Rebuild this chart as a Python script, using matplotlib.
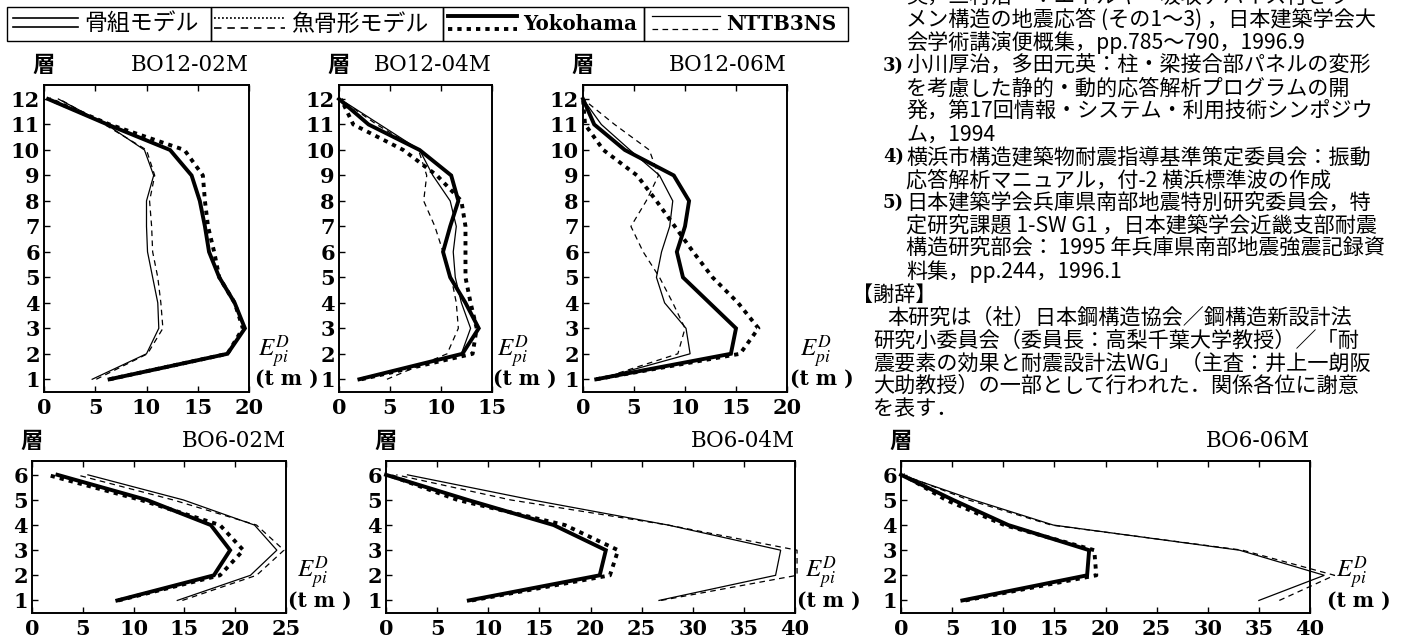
import matplotlib
matplotlib.use("Agg")
import matplotlib.pyplot as plt
from matplotlib.patches import Rectangle

plt.rcParams.update(
    {
        "font.family": ["DejaVu Serif"],
        "mathtext.fontset": "stix",
        "axes.linewidth": 1.4,
        "xtick.direction": "in",
        "ytick.direction": "in",
        "xtick.major.size": 4,
        "ytick.major.size": 4,
        "xtick.major.width": 1.0,
        "ytick.major.width": 1.0,
        "xtick.major.pad": 4,
        "ytick.major.pad": 3,
    }
)
W, H = 1401, 641
JP = ["Noto Sans CJK JP", "DejaVu Sans"]
SERIF = "DejaVu Serif"

floors12 = list(range(1, 13))
floors6 = list(range(1, 7))

# plastic energy per storey, floor 1 upwards
# key: (model, ground motion) -> frame = 骨組, fish = 魚骨形
bo12_02m = {
    ("fish", "NTTB3NS"): [5.1, 10.1, 11.6, 11.4, 11.1, 10.6, 10.5, 10.3, 10.8, 10.0, 5.9, 1.5],
    ("frame", "NTTB3NS"): [4.7, 10.0, 11.2, 11.1, 10.6, 10.1, 10.0, 10.0, 10.7, 9.8, 6.1, 1.4],
    ("fish", "Yokohama"): [6.4, 17.9, 19.4, 18.6, 17.1, 16.6, 16.0, 15.7, 15.5, 13.7, 6.4, 0.5],
    ("frame", "Yokohama"): [6.4, 17.9, 19.6, 18.6, 17.1, 16.1, 15.7, 15.2, 14.4, 12.3, 6.2, 0.4],
}
bo12_04m = {
    ("fish", "NTTB3NS"): [4.7, 10.6, 11.7, 11.5, 11.0, 10.2, 9.4, 8.3, 8.6, 7.8, 3.7, 0.1],
    ("frame", "NTTB3NS"): [2.0, 12.0, 12.9, 12.0, 11.4, 11.2, 11.5, 10.9, 9.2, 7.9, 4.0, 0.1],
    ("fish", "Yokohama"): [2.2, 13.1, 13.5, 12.9, 12.4, 12.4, 12.4, 12.0, 9.6, 6.3, 1.4, 0.2],
    ("frame", "Yokohama"): [2.0, 12.1, 13.7, 12.4, 10.9, 10.2, 10.9, 11.7, 11.0, 7.9, 2.9, 0.0],
}
bo12_06m = {
    ("fish", "NTTB3NS"): [1.6, 9.3, 10.0, 8.8, 7.5, 5.9, 4.7, 6.2, 7.4, 6.5, 3.1, 0.0],
    ("frame", "NTTB3NS"): [1.5, 10.5, 10.1, 8.0, 7.2, 7.7, 8.5, 8.8, 7.5, 4.6, 1.8, 0.0],
    ("fish", "Yokohama"): [1.3, 15.4, 17.2, 15.2, 12.7, 10.8, 9.0, 7.2, 5.3, 2.0, 0.2, 0.0],
    ("frame", "Yokohama"): [1.3, 14.5, 15.0, 12.4, 9.8, 9.2, 10.0, 10.4, 8.9, 4.1, 1.1, 0.0],
}
bo6_02m = {
    ("fish", "NTTB3NS"): [14.8, 22.1, 24.8, 22.1, 13.9, 4.4],
    ("frame", "NTTB3NS"): [14.3, 21.5, 24.1, 21.9, 14.9, 5.5],
    ("fish", "Yokohama"): [8.5, 18.5, 20.8, 18.5, 10.7, 1.5],
    ("frame", "Yokohama"): [8.4, 17.9, 19.5, 17.6, 11.3, 2.5],
}
bo6_04m = {
    ("fish", "NTTB3NS"): [26.9, 40.2, 40.2, 27.6, 12.2, 1.0],
    ("frame", "NTTB3NS"): [26.7, 38.1, 38.6, 27.6, 14.3, 2.1],
    ("fish", "Yokohama"): [8.4, 21.9, 22.7, 17.5, 7.0, 0.2],
    ("frame", "Yokohama"): [8.1, 20.9, 21.5, 16.4, 8.0, 0.0],
}
bo6_06m = {
    ("fish", "NTTB3NS"): [37.0, 42.4, 33.4, 14.7, 6.6, 0.2],
    ("frame", "NTTB3NS"): [35.0, 41.4, 33.1, 14.9, 7.1, 0.0],
    ("fish", "Yokohama"): [6.3, 19.1, 18.9, 10.1, 4.4, 0.2],
    ("frame", "Yokohama"): [6.0, 18.2, 18.4, 10.5, 5.1, 0.0],
}

styles = {
    ("fish", "NTTB3NS"): dict(lw=0.9, dashes=(4.5, 3.5)),
    ("frame", "NTTB3NS"): dict(lw=0.9, ls="-"),
    ("fish", "Yokohama"): dict(lw=2.8, dashes=(1.1, 1.3)),
    ("frame", "Yokohama"): dict(lw=2.8, ls="-"),
}

# name, data, floors, xmax, (left, top, right, bottom) px, E-label offsets
panels = [
    ("BO12-02M", bo12_02m, floors12, 20, (44, 85, 249, 392), (9, 6)),
    ("BO12-04M", bo12_04m, floors12, 15, (339, 85, 492, 392), (5, 1)),
    ("BO12-06M", bo12_06m, floors12, 20, (583, 85, 787, 392), (13, 3)),
    ("BO6-02M", bo6_02m, floors6, 25, (32, 461, 286, 613), (11, 2)),
    ("BO6-04M", bo6_04m, floors6, 40, (386, 461, 795, 613), (10, 2)),
    ("BO6-06M", bo6_06m, floors6, 40, (901, 461, 1310, 613), (26, 17)),
]

fig = plt.figure(figsize=(W / 100, H / 100), dpi=100)

for name, data, floors, xmax, (l, t, r, b), (e_off, tm_off) in panels:
    ax = fig.add_axes([l / W, 1 - b / H, (r - l) / W, (b - t) / H])
    for key, vals in data.items():
        ax.plot(vals, floors, color="black", clip_on=False,
                solid_joinstyle="miter", **styles[key])
    ax.set_xlim(0, xmax)
    ax.set_ylim(0.5, len(floors) + 0.55)
    ax.set_xticks(range(0, xmax + 1, 5))
    ax.set_yticks(floors)
    ax.tick_params(top=True, labelsize=15)
    for lab in ax.get_xticklabels() + ax.get_yticklabels():
        lab.set_fontweight("bold")
    ax.annotate("層", xy=(0, 1), xycoords="axes fraction", xytext=(0, 20),
                textcoords="offset pixels", ha="center", va="center",
                family=JP, fontsize=16, fontweight="bold")
    ax.annotate(name, xy=(1, 1), xycoords="axes fraction", xytext=(0, 20),
                textcoords="offset pixels", ha="right", va="center",
                family=SERIF, fontsize=15.5)
    ax.annotate(r"$E^{D}_{pi}$", xy=(1, 2.1), xycoords=("axes fraction", "data"),
                xytext=(e_off, 0), textcoords="offset pixels", ha="left",
                va="center", fontsize=18)
    ax.annotate("(t m )", xy=(1, 1.0), xycoords=("axes fraction", "data"),
                xytext=(tm_off, 0), textcoords="offset pixels", ha="left",
                va="center", family=SERIF, fontsize=14.5, fontweight="bold")

# page overlay in pixel coordinates: legend box and the text column
ov = fig.add_axes([0, 0, 1, 1])
ov.set_xlim(0, W)
ov.set_ylim(H, 0)
ov.axis("off")

cells = [(7, 211), (211, 443), (443, 644), (644, 848)]
for x0, x1 in cells:
    ov.add_patch(Rectangle((x0, 7), x1 - x0, 34, fill=False, lw=1.0, ec="black"))

legend_entries = [
    ("骨組モデル", JP, "normal", [("frame", "NTTB3NS"), ("frame", "NTTB3NS")], (13, 78), (18, 27)),
    ("魚骨形モデル", JP, "normal", [("fish", "Yokohama"), ("fish", "NTTB3NS")], (214, 285), (18, 28)),
    ("Yokohama", SERIF, "bold", [("frame", "Yokohama"), ("fish", "Yokohama")], (448, 517), (16, 29)),
    ("NTTB3NS", SERIF, "bold", [("frame", "NTTB3NS"), ("fish", "NTTB3NS")], (652, 720), (16, 29)),
]
for label, fam, weight, keys, (lx0, lx1), ys in legend_entries:
    for key, yy in zip(keys, ys):
        st = dict(styles[key])
        if fam is JP:
            st["lw"] = 1.2
        ov.plot([lx0, lx1], [yy, yy], color="black", **st)
    ov.text(lx1 + 6, 24, label, family=fam, fontweight=weight,
            fontsize=16.5 if fam is JP else 14.3, ha="left", va="center")

ref_lines = [
    ("", "英，三村浩一：エネルギー吸収デバイス付きラ"),
    ("", "メン構造の地震応答 (その1～3) ，日本建築学会大"),
    ("", "会学術講演便概集，pp.785～790，1996.9"),
    ("3)", "小川厚治，多田元英：柱・梁接合部パネルの変形"),
    ("", "を考慮した静的・動的応答解析プログラムの開"),
    ("", "発，第17回情報・システム・利用技術シンポジウ"),
    ("", "ム，1994"),
    ("4)", "横浜市構造建築物耐震指導基準策定委員会：振動"),
    ("", "応答解析マニュアル，付-2 横浜標準波の作成"),
    ("5)", "日本建築学会兵庫県南部地震特別研究委員会，特"),
    ("", "定研究課題 1-SW G1 ，日本建築学会近畿支部耐震"),
    ("", "構造研究部会： 1995 年兵庫県南部地震強震記録資"),
    ("", "料集，pp.244，1996.1"),
]
ack_lines = [
    (852, "【謝辞】"),
    (887, "本研究は（社）日本鋼構造協会／鋼構造新設計法"),
    (873, "研究小委員会（委員長：高梨千葉大学教授）／「耐"),
    (873, "震要素の効果と耐震設計法WG」（主査：井上一朗阪"),
    (873, "大助教授）の一部として行われた．関係各位に謝意"),
    (873, "を表す．"),
]

y = -3
for num, txt in ref_lines:
    if num:
        ov.text(883, y, num, family=SERIF, fontweight="bold", fontsize=13,
                ha="left", va="center")
    ov.text(906, y, txt, family=JP, fontsize=15.2, ha="left", va="center")
    y += 22.9
for x, txt in ack_lines:
    ov.text(x, y, txt, family=JP, fontsize=15.2, ha="left", va="center")
    y += 22.9

fig.savefig("out.png", dpi=100)
